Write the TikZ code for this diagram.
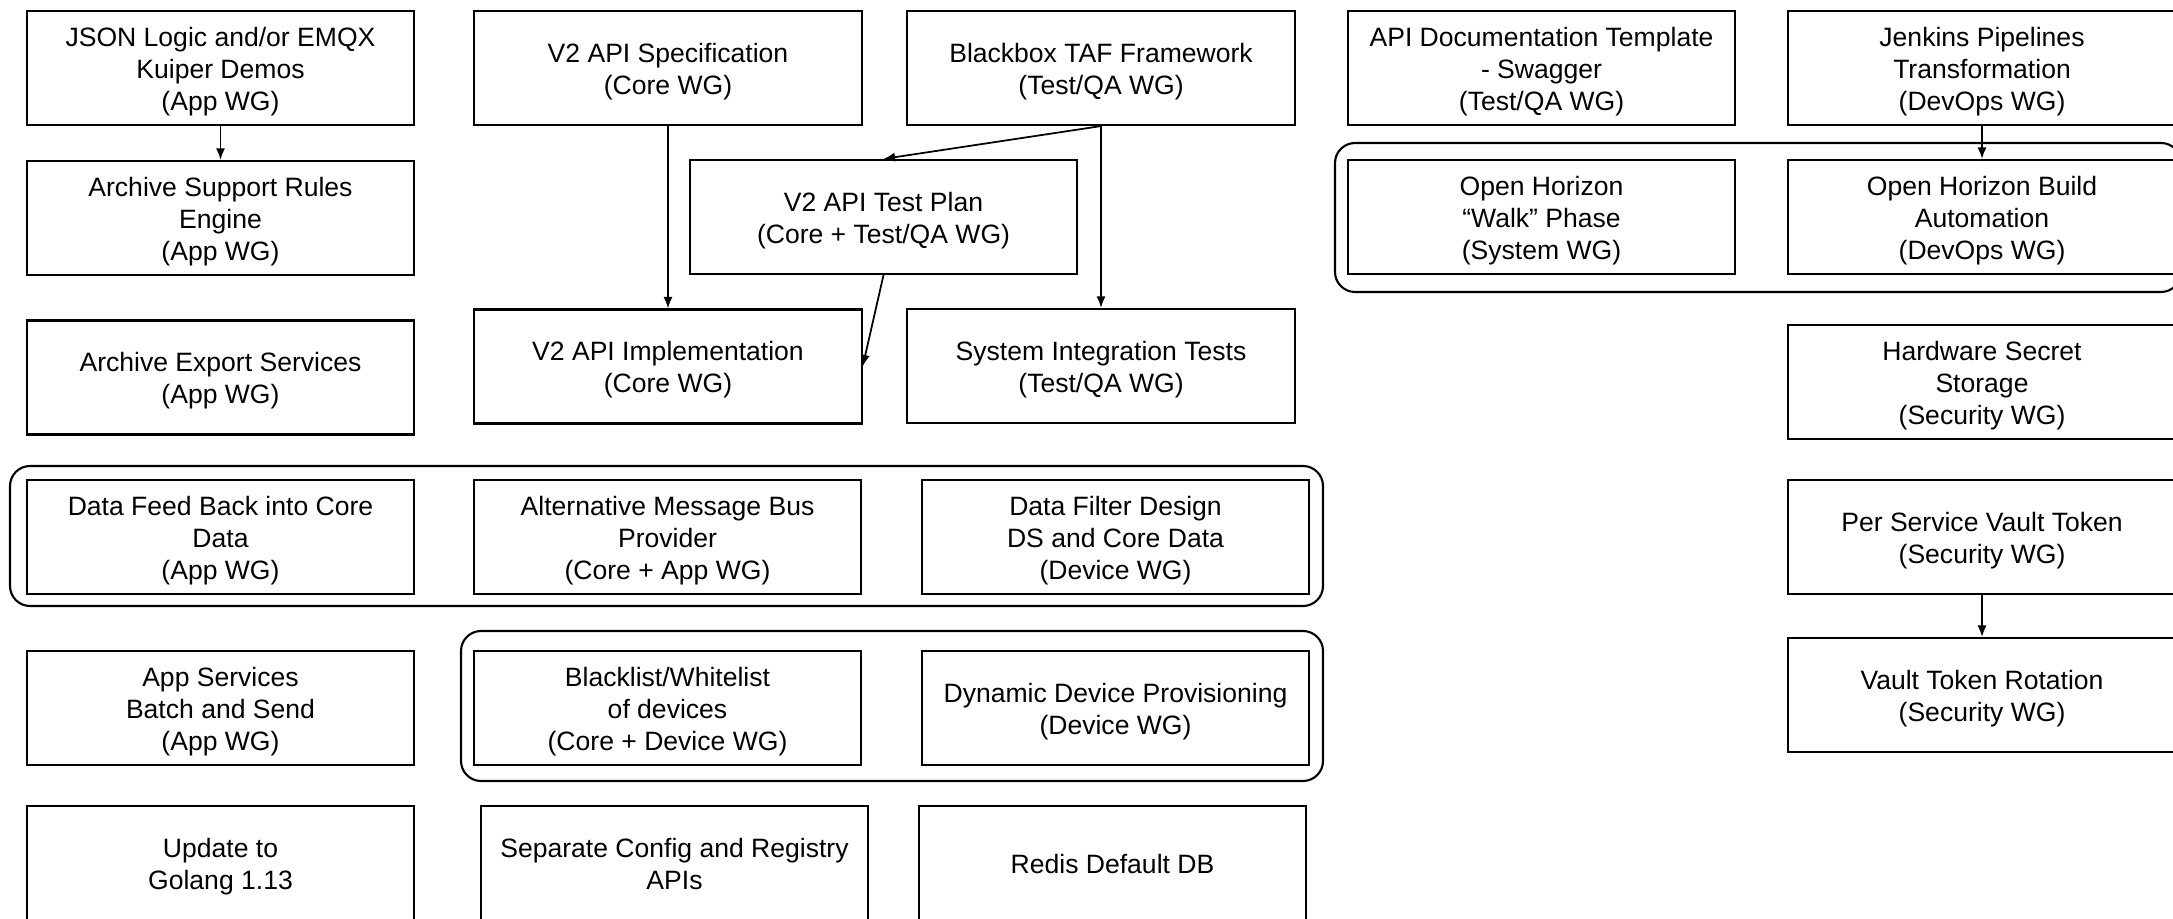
\documentclass[tikz,border=0pt]{standalone}
\usepackage{fontspec}
\setmainfont{Liberation Sans}
\usetikzlibrary{arrows.meta}
\newcommand{\tb}[1]{\begin{tabular}{@{}c@{}}\rule{0pt}{8.6pt}#1\end{tabular}}
\tikzset{
  box/.style={draw, line width=0.6pt, minimum width=3.87cm, minimum height=1.14cm,
    inner sep=0pt, font=\fontsize{7.55}{9.1}\selectfont},
  group/.style={draw, line width=0.6pt, rounded corners=0.2cm},
  link/.style={line width=0.5pt, -{Latex[length=3.3pt, width=2.6pt]}}
}
\begin{document}
\begin{tikzpicture}[x=0.01cm, y=-0.01cm]
\clip (0,0) rectangle (2173,919);
\fill[white] (0,0) rectangle (2173,919);
% groups
\draw[group] (1335,143) rectangle (2181,292);
\draw[group] (10,466) rectangle (1323,606);
\draw[group] (461,631) rectangle (1323,781);
% row 1
\node[box] (json) at (220.5,68) {\tb{JSON Logic and/or EMQX\\Kuiper Demos\\(App WG)}};
\node[box] (v2spec) at (668,68) {\tb{V2 API Specification\\(Core WG)}};
\node[box] (taf) at (1101,68) {\tb{Blackbox TAF Framework\\(Test/QA WG)}};
\node[box] (apidoc) at (1541.5,68) {\tb{API Documentation Template\\- Swagger\\(Test/QA WG)}};
\node[box] (jenkins) at (1982,68) {\tb{Jenkins Pipelines\\Transformation\\(DevOps WG)}};
% row 2
\node[box] (archrules) at (220.5,218) {\tb{Archive Support Rules\\Engine\\(App WG)}};
\node[box] (testplan) at (883.5,217) {\tb{V2 API Test Plan\\(Core + Test/QA WG)}};
\node[box] (ohwalk) at (1541.5,217) {\tb{Open Horizon\\“Walk” Phase\\(System WG)}};
\node[box] (ohbuild) at (1982,217) {\tb{Open Horizon Build\\Automation\\(DevOps WG)}};
% row 3
\node[box] (archexp) at (220.5,377.5) {\tb{Archive Export Services\\(App WG)}};
\node[box] (v2impl) at (668,366.5) {\tb{V2 API Implementation\\(Core WG)}};
\node[box] (sit) at (1101,366) {\tb{System Integration Tests\\(Test/QA WG)}};
\node[box] (hwsecret) at (1982,382) {\tb{Hardware Secret\\Storage\\(Security WG)}};
% row 4
\node[box] (datafeed) at (220.5,537) {\tb{Data Feed Back into Core\\Data\\(App WG)}};
\node[box] (altmb) at (667.5,537) {\tb{Alternative Message Bus\\Provider\\(Core + App WG)}};
\node[box] (datafilter) at (1115.5,537) {\tb{Data Filter Design\\DS and Core Data\\(Device WG)}};
\node[box] (vaulttoken) at (1982,537) {\tb{Per Service Vault Token\\(Security WG)}};
% row 5
\node[box] (appsvc) at (220.5,708) {\tb{App Services\\Batch and Send\\(App WG)}};
\node[box] (blacklist) at (667.5,708) {\tb{Blacklist/Whitelist\\of devices\\(Core + Device WG)}};
\node[box] (dynamic) at (1115.5,708) {\tb{Dynamic Device Provisioning\\(Device WG)}};
\node[box] (rotation) at (1982,695) {\tb{Vault Token Rotation\\(Security WG)}};
% row 6
\node[box] (golang) at (220.5,863) {\tb{Update to\\Golang 1.13}};
\node[box] (config) at (674.5,863) {\tb{Separate Config and Registry\\APIs}};
\node[box] (redis) at (1112.5,863) {\tb{Redis Default DB}};
% connectors
\draw[link] (json.south) -- (archrules.north);
\draw[link] (v2spec.south) -- (v2impl.north);
\draw[link] (taf.south) -- (testplan.north);
\draw[link] (taf.south) -- (sit.north);
\draw[link] (testplan.south) -- (v2impl.east);
\draw[link] (jenkins.south) -- (ohbuild.north);
\draw[link] (vaulttoken.south) -- (rotation.north);
\end{tikzpicture}
\end{document}
